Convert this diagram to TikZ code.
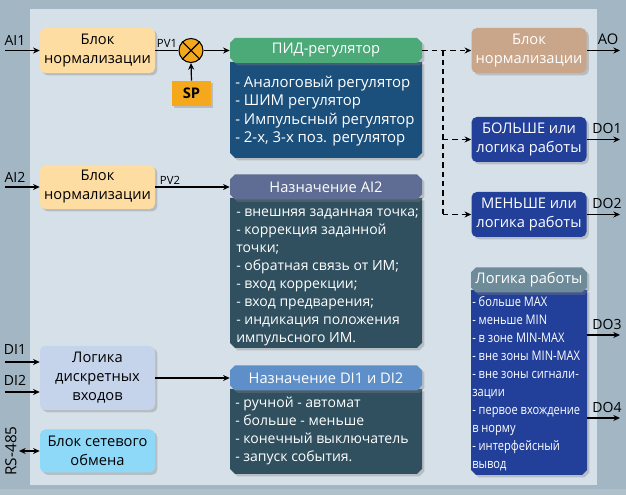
\documentclass[tikz,border=0pt]{standalone}
\usepackage{fontspec}
\setmainfont{Open Sans}
\newfontfamily\condfont[FakeStretch=0.84]{Open Sans}
\usetikzlibrary{shadows,arrows.meta}
\definecolor{outerbg}{HTML}{A3B6C3}
\definecolor{innerbg}{HTML}{D6E0E8}
\definecolor{normc}{HTML}{FEDDA3}
\definecolor{orangec}{HTML}{F5A81C}
\definecolor{pidhead}{HTML}{4BAA78}
\definecolor{pidbody}{HTML}{1B4F7C}
\definecolor{aoc}{HTML}{C9A68A}
\definecolor{royal}{HTML}{22409A}
\definecolor{aihead}{HTML}{5F6D94}
\definecolor{slate}{HTML}{30505F}
\definecolor{dihead}{HTML}{5E8FC8}
\definecolor{dilogic}{HTML}{C5D3EB}
\definecolor{netc}{HTML}{8ED8F8}
\definecolor{lrhead}{HTML}{6E8B9A}
% chamfered header: cx, cy, w, h, chamfer, style
\newcommand{\myhdrshape}[6]{%
  \fill[#6] (#1-#3/2+#5,#2-#4/2) -- (#1+#3/2-#5,#2-#4/2) -- (#1+#3/2,#2-#4/2+#5)
    -- (#1+#3/2,#2+#4/2-#5) -- (#1+#3/2-#5,#2+#4/2) -- (#1-#3/2+#5,#2+#4/2)
    -- (#1-#3/2,#2+#4/2-#5) -- (#1-#3/2,#2-#4/2+#5) -- cycle;}
% body with chamfered bottom corners: cx, top, w, h, chamfer, style
\newcommand{\mybodyshape}[6]{%
  \fill[#6] (#1-#3/2,#2) -- (#1+#3/2,#2) -- (#1+#3/2,#2+#4-#5) -- (#1+#3/2-#5,#2+#4)
    -- (#1-#3/2+#5,#2+#4) -- (#1-#3/2,#2+#4-#5) -- cycle;}
\tikzset{
  shad/.style={drop shadow={opacity=0.35, shadow xshift=1.8pt, shadow yshift=-1.8pt}},
  blk/.style={rectangle, rounded corners=4pt, minimum width=115*0.75pt, align=center,
    inner sep=0pt, font=\fontsize{11}{14.25}\selectfont, shad},
  hdr/.style={rectangle, inner sep=0pt, text=white, font=\fontsize{11}{13}\selectfont},
  btxt/.style={inner sep=0pt, align=left, text=white, font=\fontsize{10.5}{13.5}\selectfont},
  ctxt/.style={inner sep=0pt, align=left, text=white, font=\condfont\fontsize{9.9}{13.5}\selectfont},
  lbl/.style={inner sep=0pt, font=\fontsize{10.5}{12}\selectfont},
  arr/.style={line width=0.9pt, -{Stealth[length=5pt,width=4.5pt]}},
  dsh/.style={line width=1.1pt, dash pattern=on 4pt off 3pt},
}
\begin{document}
\begin{tikzpicture}[x=0.75pt,y=-0.75pt]
\useasboundingbox (0,0) rectangle (626,495);
\fill[outerbg] (0,0) rectangle (626,495);
\fill[innerbg] (30,9) rectangle (597,485);
\fill[outerbg!85!white] (0,489) rectangle (626,495);

% left column blocks
\node[blk, fill=normc, minimum height=45*0.75pt] (n1) at (97.5,50.5) {Блок\\нормализации};
\node[blk, fill=normc, minimum height=44*0.75pt] (n2) at (97.5,187) {Блок\\нормализации};
\node[blk, fill=dilogic, minimum height=64*0.75pt] (dl) at (97.5,378) {Логика\\дискретных\\входов};
\node[blk, fill=netc, minimum height=43*0.75pt] (net) at (97.5,451) {Блок сетевого\\обмена};

% summing junction and SP
\node[circle, draw, line width=0.8pt, fill=orangec, minimum size=24*0.75pt, inner sep=0pt] (sum) at (191,50.5) {};
\draw[line width=0.8pt] (sum.north west) -- (sum.south east) (sum.north east) -- (sum.south west);
\node[rectangle, fill=orangec, minimum width=39*0.75pt, minimum height=25*0.75pt, inner sep=0pt,
  font=\bfseries\fontsize{11}{12}\selectfont, shad] (sp) at (191.5,93.5) {SP};

% PID
\mybodyshape{326}{62}{192}{96}{5}{pidbody, shad}
\myhdrshape{326}{50.5}{192}{25}{5}{pidhead, shad}
\node[hdr, minimum width=192*0.75pt, minimum height=25*0.75pt] (pidh) at (326,50.5) {ПИД-регулятор};
\node[btxt, anchor=north west, font=\fontsize{11.2}{13.7}\selectfont] (pidt) at (235,74.5) {\strut- Аналоговый регулятор\\- ШИМ регулятор\\- Импульсный регулятор\\- 2-х, 3-х поз. регулятор};

% AI2 assignment
\mybodyshape{326}{198}{192}{150}{5}{slate, shad}
\myhdrshape{326}{187}{192}{25}{5}{aihead, shad}
\node[hdr, minimum width=192*0.75pt, minimum height=25*0.75pt] (aih) at (326,187) {Назначение AI2};
\node[btxt, anchor=north west] (ait) at (236,204) {\strut- внешняя заданная точка;\\- коррекция заданной\\точки;\\- обратная связь от ИМ;\\- вход коррекции;\\- вход предварения;\\- индикация положения\\импульсного ИМ.};

% DI assignment
\mybodyshape{326}{389}{192}{85}{5}{slate, shad}
\myhdrshape{326}{378}{192}{25}{5}{dihead, shad}
\node[hdr, minimum width=192*0.75pt, minimum height=25*0.75pt] (dih) at (326,378) {Назначение DI1 и DI2};
\node[btxt, anchor=north west] (dit) at (235,395) {\strut- ручной - автомат\\- больше - меньше\\- конечный выключатель\\- запуск события.};

% right column
\node[blk, fill=aoc, text=white, minimum height=45*0.75pt] (ao) at (529,50.5) {Блок\\нормализации};
\node[blk, fill=royal, text=white, minimum height=45*0.75pt] (b1) at (529,139.5) {БОЛЬШЕ или\\логика работы};
\node[blk, fill=royal, text=white, minimum height=45*0.75pt] (b2) at (529,214.5) {МЕНЬШЕ или\\логика работы};

\mybodyshape{529}{290}{116}{185}{5}{royal, shad}
\myhdrshape{529}{280}{116}{25}{5}{lrhead, shad}
\node[hdr, minimum width=116*0.75pt, minimum height=25*0.75pt] (lrh) at (529,280) {Логика работы};
\node[ctxt, anchor=north west] (lrt) at (472,293.5) {\strut- больше MAX\\- меньше MIN\\- в зоне MIN-MAX\\- вне зоны MIN-MAX\\- вне зоны сигнали-\\зации\\- первое вхождение\\в норму\\- интерфейсный\\вывод};
\coordinate (lrb) at (587,380);

% coordinates
\coordinate (ai1) at (5,50.5);
\coordinate (ai2) at (5,187);
\coordinate (di1) at (5,362);
\coordinate (di2) at (5,392);
\coordinate (rs) at (19,451);
\coordinate (oao) at (620,50.5);
\coordinate (od1) at (620,139.5);
\coordinate (od2) at (620,214.5);
\coordinate (od3) at (620,335);
\coordinate (od4) at (620,418);
\coordinate (j1) at (443,50.5);

% input connectors
\draw[arr] (ai1) -- (n1.west);
\draw[arr] (ai2) -- (n2.west);
\draw[arr] (di1) -- (di1 -| dl.west);
\draw[arr] (di2) -- (di2 -| dl.west);
\draw[line width=0.9pt, {Stealth[length=5pt,width=4.5pt]}-{Stealth[length=5pt,width=4.5pt]}] (rs) -- (net.west);

\draw[line width=0.9pt] (n1.east) -- (sum.west);
\draw[arr] (sp.north) -- (sum.south);
\draw[arr] (sum.east) -- (pidh.west);
\draw[arr] (n2.east) -- (aih.west);
\draw[arr] (dl.east) -- (dih.west);

% dashed outputs of PID
\draw[dsh, -{Stealth[length=5pt,width=4.5pt]}] (pidh.east) -- (ao.west);
\draw[dsh] (j1) -- (j1 |- b2.west);
\draw[dsh, -{Stealth[length=5pt,width=4.5pt]}] (j1 |- b1.west) -- (b1.west);
\draw[dsh, -{Stealth[length=5pt,width=4.5pt]}] (j1 |- b2.west) -- (b2.west);

% outputs
\draw[arr] (ao.east) -- (oao);
\draw[arr] (b1.east) -- (od1);
\draw[arr] (b2.east) -- (od2);
\draw[arr] (od3 -| lrb) -- (od3);
\draw[arr] (od4 -| lrb) -- (od4);

% labels
\node[lbl] (lai1) at (15,40) {AI1};
\node[lbl] (lai2) at (15,177) {AI2};
\node[lbl] (ldi1) at (15,350) {DI1};
\node[lbl] (ldi2) at (15,380) {DI2};
\node[lbl, rotate=90, font=\fontsize{11.5}{12}\selectfont] (lrs) at (11,451) {RS-485};
\node[lbl, font=\fontsize{8.5}{10}\selectfont] (lpv1) at (167,43) {PV1};
\node[lbl, font=\fontsize{8.5}{10}\selectfont] (lpv2) at (170,180) {PV2};
\node[lbl, font=\fontsize{11}{12}\selectfont] (lao) at (608,39) {AO};
\node[lbl] (ldo1) at (607,128) {DO1};
\node[lbl] (ldo2) at (607,203) {DO2};
\node[lbl] (ldo3) at (607,324) {DO3};
\node[lbl] (ldo4) at (607,407) {DO4};
\end{tikzpicture}
\end{document}
